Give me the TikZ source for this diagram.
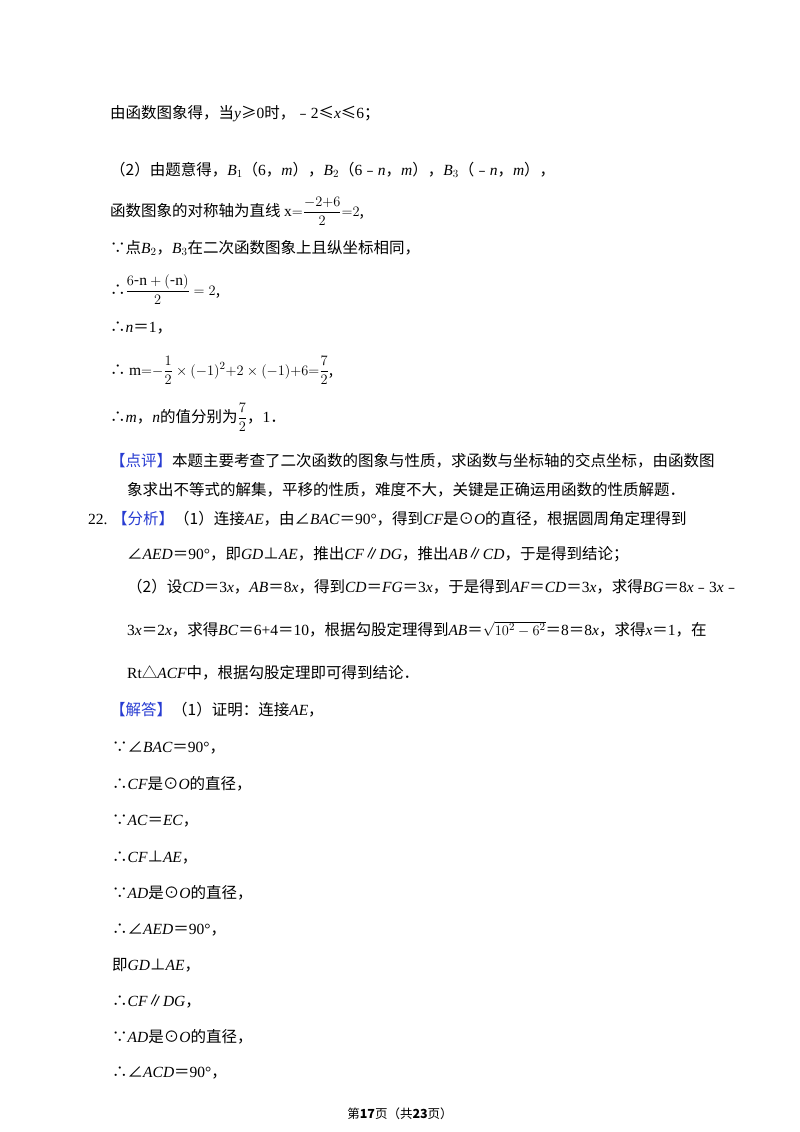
\documentclass[tikz,border=0pt]{standalone}
\usepackage{amsmath}
\usepackage{fontspec}
\setmainfont{Noto Sans CJK SC}
\newfontfamily\lat{Liberation Serif}
\newcommand\mi[1]{{\lat\itshape #1}}
\newcommand\ro[1]{{\lat #1}}
\newcommand\eq{＝}
\newcommand\mn{﹣}
\definecolor{tagblue}{RGB}{40,60,210}
\newcommand\tagb[1]{\textcolor{tagblue}{【#1】}}
\begin{document}
\begin{tikzpicture}[x=1pt,y=-1pt,
  ln/.style={anchor=base west,inner sep=0pt,font=\fontsize{15.5}{18}\selectfont}]
\fill[white] (0,0) rectangle (800,1132);
\node[ln] (l1) at (110,118) {由函数图象得，当\mi{y}≥\ro{0}时，\mn\ro{2}≤\mi{x}≤\ro{6}；};
\node[ln] (l2) at (110,175) {（2）由题意得，\mi{B}\ro{$_1$}（\ro{6}，\mi{m}），\mi{B}\ro{$_2$}（\ro{6}\mn\mi{n}，\mi{m}），\mi{B}\ro{$_3$}（\mn\mi{n}，\mi{m}），};
\node[ln] (l3) at (110,216) {函数图象的对称轴为直线 $\text{\lat x}{=}\dfrac{-2{+}6}{2}{=}2$,};
\node[ln] (l4) at (110,253) {∵点\mi{B}\ro{$_2$}，\mi{B}\ro{$_3$}在二次函数图象上且纵坐标相同，};
\node[ln] (l5) at (110,295) {∴$\dfrac{6\text{-\lat n}+(\text{-\lat n})}{2}=2$,};
\node[ln] (l6) at (110,332) {∴\mi{n}\eq\ro{1}，};
\node[ln] (l7) at (110,375) {∴ $\text{\lat m}{=}{-}\dfrac{1}{2}\times(-1)^{2}{+}2\times(-1){+}6{=}\dfrac{7}{2}$,};
\node[ln] (l8) at (110,422) {∴\mi{m}，\mi{n}的值分别为$\dfrac{7}{2}$，\ro{1}．};
\node[ln] (l9) at (110,466) {\tagb{点评}本题主要考查了二次函数的图象与性质，求函数与坐标轴的交点坐标，由函数图};
\node[ln] (l10) at (127,495) {象求出不等式的解集，平移的性质，难度不大，关键是正确运用函数的性质解题．};
\node[ln] (l11) at (88,524) {\ro{22.} \tagb{分析}（1）连接\mi{AE}，由∠\mi{BAC}\eq\ro{90°}，得到\mi{CF}是⊙\mi{O}的直径，根据圆周角定理得到};
\node[ln] (l12) at (127,559) {∠\mi{AED}\eq\ro{90°}，即\mi{GD}⊥\mi{AE}，推出\mi{CF}∥\mi{DG}，推出\mi{AB}∥\mi{CD}，于是得到结论；};
\node[ln] (l13) at (127,592) {（2）设\mi{CD}\eq\ro{3}\mi{x}，\mi{AB}\eq\ro{8}\mi{x}，得到\mi{CD}\eq\mi{FG}\eq\ro{3}\mi{x}，于是得到\mi{AF}\eq\mi{CD}\eq\ro{3}\mi{x}，求得\mi{BG}\eq\ro{8}\mi{x}\mn\ro{3}\mi{x}\mn};
\node[ln] (l14) at (127,635) {\ro{3}\mi{x}\eq\ro{2}\mi{x}，求得\mi{BC}\eq\ro{6+4}\eq\ro{10}，根据勾股定理得到\mi{AB}\eq$\sqrt{10^{2}-6^{2}}$\eq\ro{8}\eq\ro{8}\mi{x}，求得\mi{x}\eq\ro{1}，在};
\node[ln] (l15) at (127,678) {\ro{Rt}△\mi{ACF}中，根据勾股定理即可得到结论．};
\node[ln] (l16) at (110,715) {\tagb{解答}（1）证明：连接\mi{AE}，};
\node[ln] (l17) at (112,752) {∵∠\mi{BAC}\eq\ro{90°}，};
\node[ln] (l18) at (112,789) {∴\mi{CF}是⊙\mi{O}的直径，};
\node[ln] (l19) at (112,825) {∵\mi{AC}\eq\mi{EC}，};
\node[ln] (l20) at (112,862) {∴\mi{CF}⊥\mi{AE}，};
\node[ln] (l21) at (112,898) {∵\mi{AD}是⊙\mi{O}的直径，};
\node[ln] (l22) at (112,934) {∴∠\mi{AED}\eq\ro{90°}，};
\node[ln] (l23) at (112,970) {即\mi{GD}⊥\mi{AE}，};
\node[ln] (l24) at (112,1006) {∴\mi{CF}∥\mi{DG}，};
\node[ln] (l25) at (112,1042) {∵\mi{AD}是⊙\mi{O}的直径，};
\node[ln] (l26) at (112,1077) {∴∠\mi{ACD}\eq\ro{90°}，};
\node[anchor=base,inner sep=0pt,font=\fontsize{12.5}{14}\selectfont] (foot) at (400,1118) {第\textbf{17}页（共\textbf{23}页）};
\end{tikzpicture}
\end{document}
